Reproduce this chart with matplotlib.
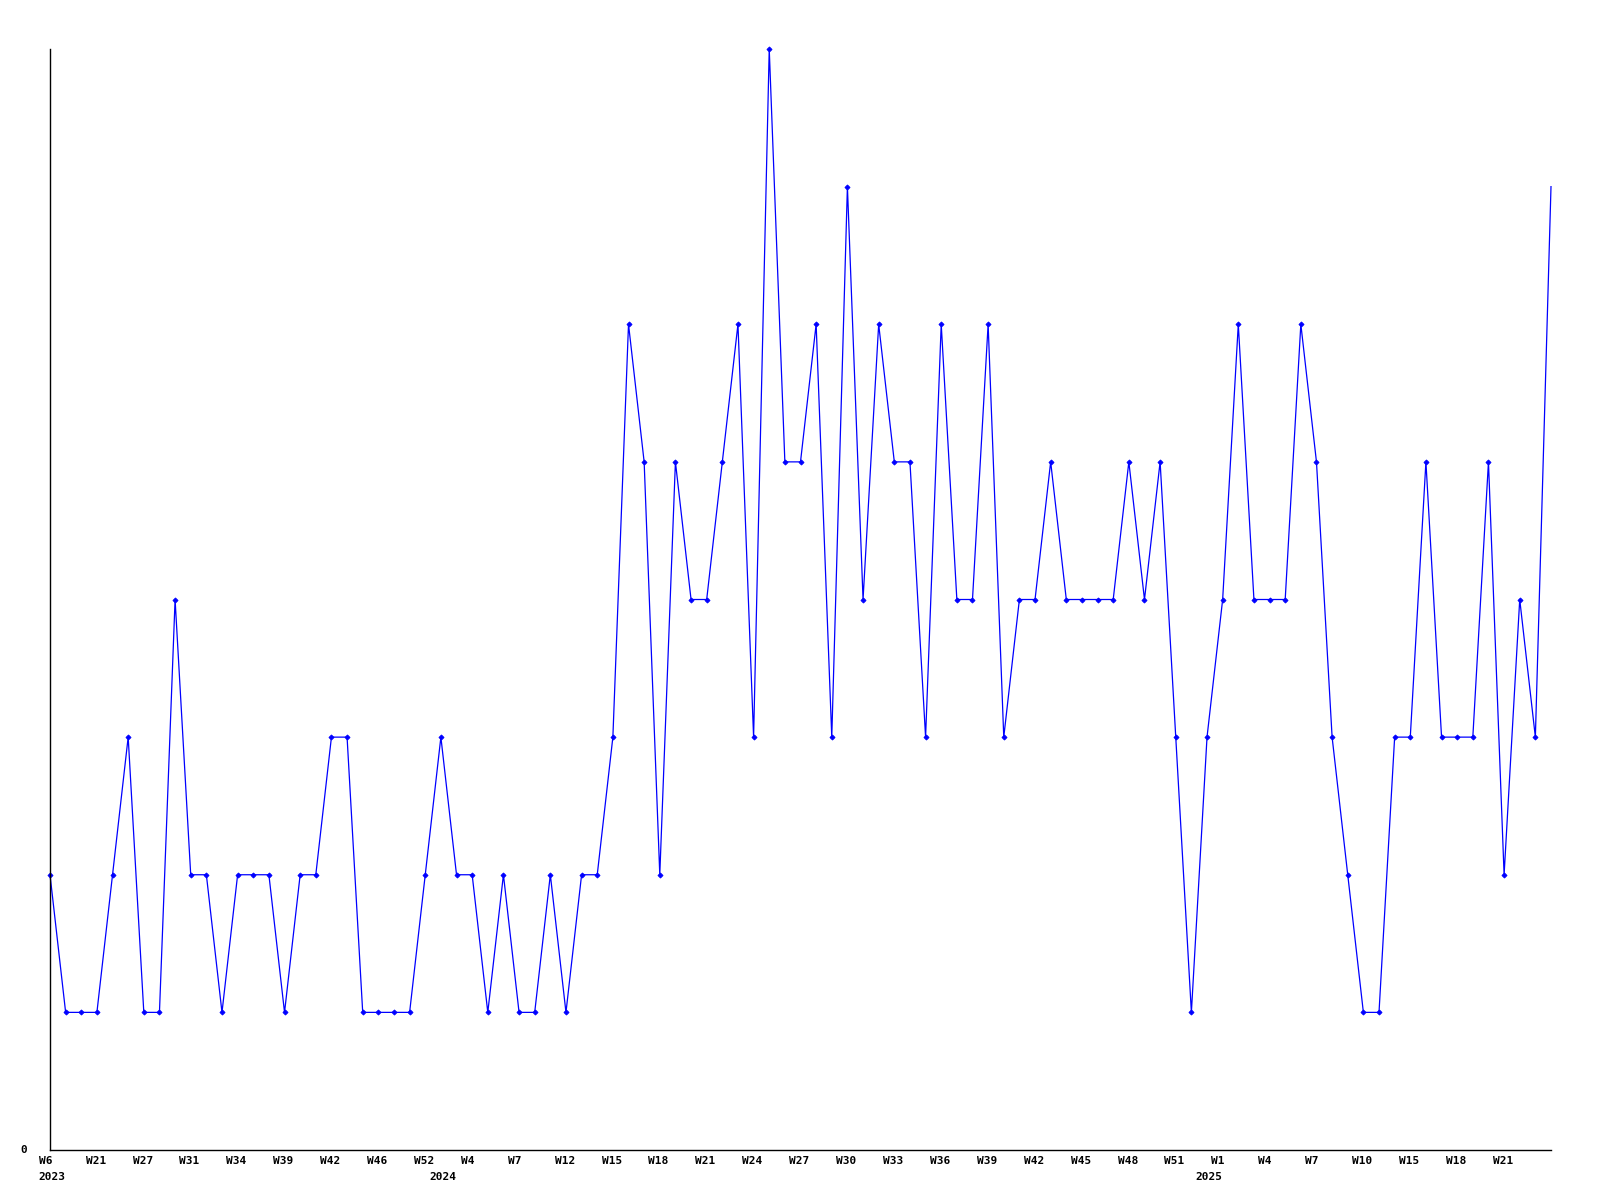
import matplotlib
matplotlib.use("Agg")
import matplotlib.pyplot as plt
import matplotlib.transforms as mtransforms
import numpy as np

# weekly counts, one per plotted week
counts = [2, 1, 1, 1, 2, 3, 1, 1, 4, 2, 2, 1, 2, 2, 2, 1, 2, 2, 3, 3,
          1, 1, 1, 1, 2, 3, 2, 2, 1, 2, 1, 1, 2, 1, 2, 2, 3, 6, 5, 2,
          5, 4, 4, 5, 6, 3, 8, 5, 5, 6, 3, 7, 4, 6, 5, 5, 3, 6, 4, 4,
          6, 3, 4, 4, 5, 4, 4, 4, 4, 5, 4, 5, 3, 1, 3, 4, 6, 4, 4, 4,
          6, 5, 3, 2, 1, 1, 3, 3, 5, 3, 3, 3, 5, 2, 4, 3, 7]

# labels shown on every third week
week_labels = ["W6", "W21", "W27", "W31", "W34", "W39", "W42", "W46", "W52", "W4",
               "W7", "W12", "W15", "W18", "W21", "W24", "W27", "W30", "W33", "W36",
               "W39", "W42", "W45", "W48", "W51", "W1", "W4", "W7", "W10", "W15",
               "W18", "W21"]
label_step = 3

years = ["2023", "2024", "2025"]
year_index = [0, 25, 74]

font = dict(family="DejaVu Sans Mono", fontsize=8, fontweight="bold")

fig = plt.figure(figsize=(16, 12), dpi=100)
ax = fig.add_axes([50 / 1600, 50 / 1200, 1501 / 1600, 1101 / 1200])

x = np.arange(len(counts))
# last (current) week is drawn without a marker
ax.plot(x, counts, color="#0000ff", lw=0.9, marker="D", ms=2.6,
        markeredgewidth=0.6, markevery=list(range(len(counts) - 1)), clip_on=False)

ax.set_xlim(0, len(counts) - 1)
ax.set_ylim(0, max(counts))

for s in ["top", "right"]:
    ax.spines[s].set_visible(False)
for s in ["left", "bottom"]:
    ax.spines[s].set_linewidth(1.0)
    ax.spines[s].set_color("black")

ax.set_yticks([])
ax.set_xticks([])

# x labels are left aligned a little before each point
shift = mtransforms.ScaledTranslation(-11.3 / 100, 0, fig.dpi_scale_trans)
trans = mtransforms.blended_transform_factory(ax.transData, ax.transAxes) + shift
for k, lab in enumerate(week_labels):
    ax.text(k * label_step, -11 / 1101, lab, transform=trans, ha="left",
            va="center", **font)
for yr, idx in zip(years, year_index):
    ax.text(idx, -27 / 1101, yr, transform=trans, ha="left", va="center", **font)

ax.text(-26 / 1501, 0, "0", transform=ax.transAxes, ha="center", va="center", **font)

fig.savefig("out.png", dpi=100, facecolor="white")
